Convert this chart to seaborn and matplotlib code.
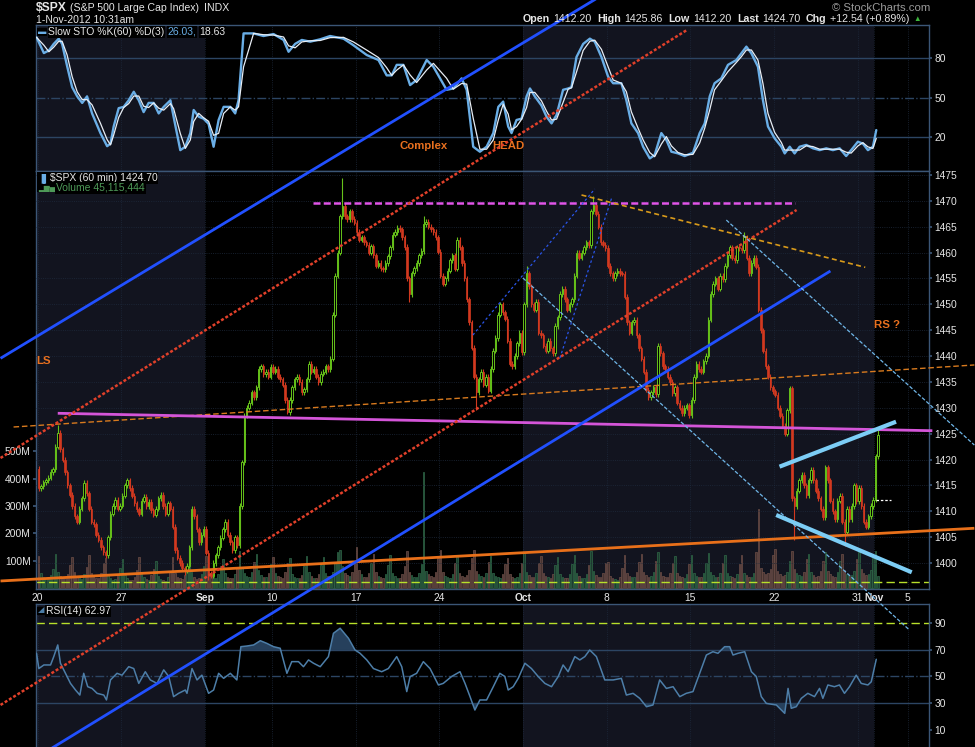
import matplotlib
matplotlib.use("Agg")
import matplotlib.pyplot as plt
import seaborn as sns
import numpy as np
import pandas as pd

# ---- values ----
# x axis is trading days from Aug 20 2012 (Sep 3, Oct 29-30 closed)
tick_days = [0, 5, 10, 14, 19, 24, 29, 34, 39, 44, 49, 50, 52]
tick_labels = ['20', '27', 'Sep', '10', '17', '24', 'Oct', '8', '15', '22', '31', 'Nov', '5']
month_starts = [10, 29, 50]  # Sep, Oct, Nov

prev_close = 1418.2
# hourly closes, 7 bars per day
closes = [
    [1414.5, 1414.8, 1415.6, 1416.0, 1416.5, 1417.6, 1418.1],  # Aug 20
    [1422.5, 1425.2, 1422.0, 1420.0, 1417.5, 1415.0, 1413.2],
    [1411.0, 1409.0, 1408.0, 1410.5, 1412.5, 1415.5, 1413.5],
    [1410.5, 1408.0, 1407.5, 1405.5, 1404.5, 1403.0, 1402.1],
    [1401.5, 1405.0, 1409.5, 1411.0, 1412.2, 1410.5, 1411.1],
    [1413.0, 1415.0, 1416.0, 1414.5, 1413.0, 1411.5, 1410.4],  # Aug 27
    [1409.5, 1412.0, 1412.8, 1411.0, 1411.8, 1410.2, 1409.3],
    [1410.5, 1412.5, 1413.2, 1411.0, 1409.5, 1411.5, 1410.5],
    [1407.0, 1402.5, 1401.0, 1400.0, 1399.0, 1398.5, 1399.5],
    [1403.0, 1410.5, 1409.0, 1406.5, 1404.0, 1405.5, 1406.6],
    [1402.0, 1398.0, 1397.5, 1400.0, 1401.5, 1403.0, 1404.9],  # Sep 4
    [1406.5, 1408.0, 1405.5, 1404.0, 1402.5, 1405.0, 1403.4],
    [1411.0, 1419.5, 1428.5, 1430.0, 1431.0, 1433.0, 1432.1],
    [1434.0, 1437.5, 1438.0, 1436.5, 1437.0, 1436.0, 1437.9],
    [1437.0, 1437.5, 1436.0, 1435.5, 1434.5, 1431.5, 1429.1],  # Sep 10
    [1431.5, 1434.0, 1435.5, 1436.0, 1435.0, 1433.0, 1433.6],
    [1435.5, 1438.5, 1437.0, 1437.5, 1436.0, 1435.0, 1436.6],
    [1437.0, 1438.0, 1437.5, 1439.5, 1448.0, 1455.5, 1460.0],
    [1467.0, 1469.0, 1467.0, 1466.5, 1468.0, 1466.5, 1465.8],
    [1464.0, 1462.5, 1463.0, 1462.0, 1461.5, 1460.0, 1461.2],  # Sep 17
    [1459.5, 1457.5, 1458.0, 1457.0, 1456.8, 1458.0, 1459.3],
    [1461.0, 1463.5, 1464.0, 1464.8, 1464.5, 1463.0, 1461.1],
    [1455.0, 1452.0, 1456.0, 1457.0, 1458.0, 1459.5, 1460.3],
    [1465.5, 1466.0, 1465.0, 1464.5, 1464.0, 1463.0, 1460.2],
    [1455.5, 1454.0, 1455.0, 1456.5, 1458.5, 1459.5, 1456.9],  # Sep 24
    [1462.5, 1461.0, 1458.0, 1455.0, 1451.0, 1446.5, 1441.6],
    [1436.0, 1433.0, 1435.5, 1437.0, 1434.5, 1436.0, 1433.3],
    [1437.5, 1441.0, 1443.5, 1448.0, 1450.0, 1448.5, 1447.2],
    [1443.0, 1438.5, 1438.0, 1440.0, 1442.5, 1444.5, 1440.7],
    [1450.0, 1456.0, 1453.5, 1450.0, 1449.0, 1450.5, 1444.5],  # Oct 1
    [1444.0, 1442.0, 1441.0, 1443.0, 1441.5, 1440.5, 1445.8],
    [1447.5, 1452.0, 1453.0, 1451.0, 1449.0, 1450.0, 1451.0],
    [1455.5, 1460.0, 1459.0, 1460.0, 1461.0, 1462.0, 1461.4],
    [1468.0, 1469.3, 1467.5, 1465.0, 1462.0, 1461.5, 1460.9],
    [1457.5, 1456.0, 1455.0, 1456.0, 1456.5, 1456.0, 1455.9],  # Oct 8
    [1451.5, 1446.5, 1444.5, 1446.5, 1447.0, 1444.0, 1441.5],
    [1439.5, 1437.0, 1433.5, 1432.0, 1433.0, 1434.0, 1432.6],
    [1442.0, 1440.5, 1438.0, 1437.5, 1436.0, 1435.0, 1432.8],
    [1434.0, 1431.0, 1430.0, 1429.0, 1430.0, 1430.5, 1428.6],
    [1431.5, 1436.0, 1438.5, 1437.5, 1437.0, 1439.0, 1440.1],  # Oct 15
    [1447.0, 1452.0, 1454.0, 1455.0, 1453.0, 1455.5, 1454.9],
    [1457.5, 1459.5, 1461.0, 1459.0, 1458.5, 1461.0, 1460.9],
    [1460.5, 1463.0, 1459.0, 1456.0, 1458.0, 1459.0, 1457.3],
    [1449.0, 1445.0, 1441.0, 1438.0, 1436.0, 1434.0, 1433.2],
    [1432.5, 1430.0, 1428.5, 1426.5, 1425.0, 1429.5, 1433.8],  # Oct 22
    [1412.5, 1411.0, 1414.0, 1416.0, 1417.0, 1415.0, 1413.1],
    [1416.0, 1418.0, 1416.0, 1414.0, 1412.5, 1410.5, 1408.8],
    [1418.5, 1416.0, 1412.0, 1410.0, 1408.5, 1412.0, 1413.0],
    [1408.0, 1406.0, 1410.5, 1408.5, 1411.0, 1415.0, 1411.9],
    [1414.5, 1411.0, 1408.0, 1407.0, 1409.0, 1411.0, 1412.2],  # Oct 31
    [1420.6, 1424.7],                                          # Nov 1
]
# hourly volume, millions
volumes = [
    [118, 55, 42, 38, 35, 48, 70], [125, 60, 45, 40, 38, 52, 85],
    [115, 58, 40, 35, 33, 50, 78], [120, 55, 44, 36, 38, 55, 90],
    [110, 50, 38, 30, 32, 45, 72], [105, 48, 36, 28, 30, 42, 65],
    [112, 52, 40, 32, 30, 46, 70], [100, 45, 34, 28, 26, 40, 62],
    [115, 55, 42, 36, 34, 48, 75], [120, 60, 40, 34, 38, 50, 80],
    [118, 62, 48, 40, 36, 52, 82], [105, 55, 42, 38, 35, 50, 78],
    [135, 75, 55, 45, 42, 58, 95], [125, 65, 48, 40, 42, 55, 88],
    [112, 55, 45, 40, 38, 60, 92], [108, 50, 42, 36, 35, 48, 80],
    [118, 58, 45, 38, 36, 52, 85], [115, 55, 45, 40, 60, 95, 130],
    [140, 80, 55, 48, 45, 60, 100], [150, 65, 50, 42, 40, 55, 90],
    [125, 58, 45, 40, 38, 52, 85], [120, 55, 44, 38, 36, 50, 82],
    [135, 60, 48, 42, 40, 55, 88], [425, 62, 50, 44, 42, 58, 110],
    [140, 58, 45, 40, 38, 52, 90], [120, 55, 45, 42, 48, 65, 110],
    [140, 62, 50, 45, 42, 55, 95], [118, 55, 45, 40, 38, 52, 88],
    [110, 52, 42, 38, 40, 55, 92], [130, 60, 48, 42, 40, 54, 90],
    [118, 55, 44, 40, 38, 50, 85], [115, 52, 42, 36, 38, 52, 88],
    [120, 55, 44, 38, 36, 50, 85], [135, 62, 48, 42, 40, 54, 90],
    [95, 45, 36, 32, 30, 42, 72], [120, 55, 45, 40, 42, 58, 95],
    [125, 60, 48, 42, 45, 60, 100], [130, 58, 45, 40, 42, 56, 92],
    [118, 55, 44, 40, 38, 52, 88], [120, 56, 45, 40, 42, 55, 92],
    [128, 60, 48, 42, 40, 55, 90], [122, 55, 45, 40, 38, 52, 88],
    [120, 55, 46, 42, 40, 56, 130], [290, 75, 60, 52, 55, 70, 120],
    [143, 62, 50, 45, 48, 60, 100], [135, 70, 55, 48, 45, 60, 105],
    [125, 60, 48, 42, 45, 62, 100], [133, 62, 50, 45, 42, 58, 98],
    [125, 65, 52, 45, 48, 62, 105], [133, 68, 55, 48, 50, 65, 110],
    [135, 45],
]
# notable wicks (day, bar) -> price
wick_highs = {(1, 1): 1426.7, (18, 1): 1474.5, (33, 1): 1471.0, (29, 1): 1457.4,
              (23, 0): 1467.0, (42, 1): 1464.0, (50, 1): 1425.9}
wick_lows = {(10, 1): 1396.7, (45, 1): 1404.5, (48, 1): 1403.3, (22, 1): 1450.5,
             (26, 1): 1429.5, (14, 6): 1428.8, (8, 5): 1397.7}

# Slow STO %K(60) readings (trading day, value)
stoch_t = [-0.06, 0.38, 0.68, 0.97, 1.27, 1.47, 1.77, 2.07, 2.37, 2.67,
           2.96, 3.26, 3.76, 4.16, 4.36, 4.55, 4.85, 5.15, 5.45, 5.75,
           6.05, 6.34, 6.64, 6.94, 7.24, 7.54, 7.94, 8.13, 8.53, 8.83,
           9.13, 9.33, 9.63, 9.92, 10.22, 10.52, 10.82, 11.12, 11.52, 11.81,
           12.01, 12.31, 12.91, 13.50, 14.10, 14.70, 15.0, 15.39, 15.79, 16.29,
           16.89, 17.48, 18.28, 18.87, 19.67, 20.37, 20.86, 21.16, 21.46, 21.86,
           22.26, 22.65, 23.25, 23.65, 24.44, 24.84, 25.34, 25.64, 26.03, 26.43,
           26.83, 27.23, 27.53, 27.82, 28.12, 28.32, 28.62, 28.92, 29.22, 29.42,
           29.71, 30.11, 30.41, 30.71, 31.01, 31.40, 31.70, 31.90, 32.20, 32.60,
           33.0, 33.29, 33.69, 34.09, 34.39, 34.88, 35.18, 35.48, 35.88, 36.18,
           36.58, 36.87, 37.27, 37.57, 37.87, 38.27, 38.66, 39.16, 39.56, 39.86,
           40.16, 40.45, 40.85, 41.25, 41.75, 42.05, 42.35, 42.65, 43.04, 43.34,
           43.64, 44.04, 44.44, 44.64, 44.94, 45.23, 45.53, 45.93, 46.33, 46.73,
           47.12, 47.52, 47.92, 48.31, 48.61, 49.01, 49.31, 49.61, 49.91, 50.11]
stoch_k = [96, 84, 86, 91, 95, 91, 74, 58, 51, 46,
           51, 38, 23, 13, 15, 28, 42, 43, 48, 54.5,
           48, 39, 46, 46, 38, 43, 48, 35.5, 10, 12.6,
           23, 40.6, 35.5, 34, 30, 12.6, 33, 43, 43, 38,
           48, 99, 99, 97, 98.5, 94, 85, 91, 94, 92.7,
           94.5, 97, 95, 90, 82.5, 78.7, 67, 67, 75, 75,
           59.6, 63.5, 78.7, 73.6, 56, 57, 64.7, 56, 12.6, 8.8,
           12.6, 23, 43, 47, 28, 23, 33, 34, 51, 57,
           51, 44, 35.5, 30.4, 36.8, 56, 57, 58, 81, 91,
           95, 92.7, 81, 66, 61, 61, 48, 30.4, 23, 12.6,
           3.7, 6.3, 23, 17.7, 8.8, 7.5, 5.5, 8, 23, 30.4,
           51, 61, 64.7, 75, 78.7, 83.8, 88.9, 83.8, 73.6, 48,
           28, 19, 12.6, 7.5, 12.6, 7.5, 12.6, 14, 11.4, 10,
           11.4, 10, 11.4, 5.5, 10, 16.4, 15, 10, 12.6, 25.3]

# RSI(14) readings
rsi_t = [-0.06, 0.08, 0.38, 0.78, 0.97, 1.21, 1.37, 1.67, 1.97, 2.27,
         2.53, 2.76, 3.0, 3.26, 3.56, 3.96, 4.12, 4.36, 4.75, 5.05,
         5.45, 5.75, 6.05, 6.44, 6.74, 7.14, 7.54, 7.84, 8.13, 8.43,
         8.83, 8.93, 9.23, 9.53, 9.82, 10.22, 10.52, 10.82, 11.12, 11.52,
         11.91, 12.15, 12.51, 12.91, 13.31, 13.70, 14.10, 14.50, 14.90, 15.19,
         15.59, 15.89, 16.19, 16.49, 16.89, 17.38, 17.68, 18.08, 18.58, 18.97,
         19.27, 19.67, 20.07, 20.56, 20.96, 21.46, 21.76, 22.06, 22.26, 22.65,
         23.05, 23.45, 23.95, 24.24, 24.74, 25.24, 25.54, 25.84, 26.13, 26.43,
         26.83, 27.23, 27.62, 27.92, 28.12, 28.42, 28.72, 29.12, 29.51, 29.91,
         30.31, 30.71, 31.11, 31.40, 31.70, 32.10, 32.40, 32.70, 32.99, 33.39,
         33.89, 34.39, 34.88, 35.18, 35.58, 35.98, 36.38, 36.77, 37.17, 37.57,
         37.97, 38.37, 38.76, 39.16, 39.56, 39.96, 40.35, 40.65, 41.05, 41.35,
         41.55, 41.85, 42.25, 42.65, 42.94, 43.24, 43.54, 44.14, 44.64, 44.84,
         45.03, 45.33, 45.63, 46.02, 46.42, 46.72, 46.92, 47.22, 47.61, 47.91,
         48.21, 48.51, 48.91, 49.21, 49.61, 49.81, 50.11]
rsi_v = [67.5, 56, 58.7, 58.7, 65, 73.8, 60, 52.4, 44.8, 39.8,
         36, 52.4, 42.3, 41, 37.3, 36, 32.3, 47.4, 52.4, 51,
         57.4, 56, 44.8, 53.6, 47.4, 44.8, 55, 50, 34.8, 37.3,
         39.8, 37.3, 56, 47.4, 51, 37.3, 39.8, 52.4, 48.6, 52.4,
         47.4, 72.5, 73, 73.8, 77, 75, 72.5, 71.3, 52.4, 61.2,
         61.2, 57.4, 62.5, 60, 57.4, 65, 82.6, 86.4, 78.8, 70,
         67.5, 62.5, 56, 53.6, 56, 65, 57.4, 38.6, 49.9, 52.4,
         61.2, 56, 43.6, 44.8, 50, 53.6, 44.8, 34.8, 24.7, 32.3,
         32.3, 42.3, 52.4, 50, 39.8, 42.3, 48.6, 60, 56, 50,
         44.8, 42.3, 50, 58.7, 53.6, 65, 62.5, 65, 70, 65,
         47.4, 47.4, 48.6, 36, 37.3, 33.5, 27.2, 28.5, 47.4, 41,
         42.3, 34.8, 37.3, 38.6, 52.4, 66.2, 68.7, 67.5, 72.5, 72.5,
         66.2, 67.5, 68.7, 53.6, 50, 34.8, 29.7, 28.5, 22.2, 41,
         26, 27.2, 33.5, 37.3, 34.8, 41, 33.5, 43.6, 42.3, 43.6,
         37.3, 42.3, 51, 44.8, 43.6, 46, 63.0]

# drawn trendlines, (day, price) end points
blue_channel = [[(0.3, 1363.1), (47.37, 1456.45)], [(-2.21, 1439.57), (34.0, 1510.3)]]
red_channel = [[(-2.21, 1420.3), (38.78, 1503.0)], [(-2.21, 1372.55), (45.35, 1468.24)]]
blue_dotted = [[(26.01, 1444.07), (33.29, 1472.3)], [(31.21, 1439.63), (34.31, 1470.66)]]
gold_dashed = [(32.5, 1471.14), (49.45, 1457.16)]
thin_blue = [[(29.0, 1455.09), (52.09, 1387.05)], [(41.15, 1466.3), (55.97, 1422.8)]]
wedge = [[(44.33, 1418.62), (51.29, 1427.31)], [(44.13, 1409.28), (52.23, 1398.2)]]
top_line = [(16.47, 1469.65), (45.23, 1469.65)]
neckline = [(1.21, 1428.94), (53.46, 1425.57)]
orange_dashed = [(-1.43, 1426.29), (55.97, 1438.28)]
orange_support = [(-2.21, 1396.52), (55.97, 1406.71)]

# ---- build candles ----
rows = []
last = prev_close
for d, day in enumerate(closes):
    for j, c in enumerate(day):
        o = last
        hi = wick_highs.get((d, j), max(o, c) + 0.5)
        lo = wick_lows.get((d, j), min(o, c) - 0.5)
        rows.append((d + (j + 0.5) / 7, o, hi, lo, c, volumes[d][j]))
        last = c
bars = pd.DataFrame(rows, columns=['x', 'open', 'high', 'low', 'close', 'vol'])
up = (bars['close'] >= bars['open']).values

sns.set_theme(style='dark', rc={'axes.facecolor': 'black', 'figure.facecolor': 'black',
                                'axes.edgecolor': '#3b5676', 'text.color': '#e6e6e6',
                                'xtick.color': '#e6e6e6', 'ytick.color': '#e6e6e6'})
plt.rcParams['font.family'] = ['Liberation Sans', 'DejaVu Sans']

W_PX, H_PX = 975, 747
LEFT, RIGHT = 35.5, 929.0
SHADE = '#12141f'
GRID = '#2c4563'
TXT = '#e6e6e6'
ORANGE = '#e8701f'


def box(top, bottom):
    return [LEFT / W_PX, 1 - bottom / H_PX, (RIGHT - LEFT) / W_PX, (bottom - top) / H_PX]


fig = plt.figure(figsize=(9.75, 7.47), dpi=100, facecolor='black')
ax_sto = fig.add_axes(box(25, 171))
ax_vol = fig.add_axes(box(171, 589), sharex=ax_sto)
ax_px = ax_vol.twinx()
ax_rsi = fig.add_axes(box(604, 747), sharex=ax_sto)
ax_px.set_zorder(5)
ax_px.patch.set_visible(False)

xlim = (-0.12, 53.26)
for ax in (ax_sto, ax_vol, ax_rsi):
    ax.set_facecolor('black')
    ax.axvspan(-5, month_starts[0], color=SHADE, lw=0, zorder=0)
    ax.axvspan(month_starts[1], month_starts[2], color=SHADE, lw=0, zorder=0)
    for s in ax.spines.values():
        s.set_color('#3b5676')
        s.set_linewidth(1)
    for d in tick_days:
        ax.axvline(d, color='#1e2a3c', lw=0.6, ls=':', zorder=0.5)
    ax.grid(False)
for s in ax_px.spines.values():
    s.set_visible(False)
ax_rsi.spines['bottom'].set_visible(False)
ax_sto.set_xlim(*xlim)

# ---- stochastics ----
k = pd.Series(stoch_k, dtype=float)
dline = k.rolling(2, min_periods=1).mean()
ax_sto.axhline(80, color=GRID, lw=1, zorder=1)
ax_sto.axhline(20, color=GRID, lw=1, zorder=1)
ax_sto.axhline(50, color=GRID, lw=1, ls='-.', zorder=1)
sns.lineplot(x=stoch_t, y=k.values, ax=ax_sto, color='#6aaee6', lw=1.7, zorder=3)
sns.lineplot(x=stoch_t, y=dline.values, ax=ax_sto, color='#e8eef5', lw=0.9, zorder=4)
ax_sto.set_ylim(-5.9, 105.4)
ax_sto.yaxis.tick_right()
ax_sto.set_yticks([20, 50, 80])
ax_sto.text(21.65, 13.1, 'Complex', color=ORANGE, fontsize=8.2, fontweight='bold', va='center')
ax_sto.text(27.15, 13.1, 'HEAD', color=ORANGE, fontsize=8.2, fontweight='bold', va='center')

# ---- price + volume ----
vcol = np.where(up, '#1e3b30', '#463431')
vedge = np.where(up, '#2f6a48', '#6e4f48')
ax_vol.bar(bars['x'], bars['vol'], width=0.62 / 7, color=vcol, edgecolor=vedge, lw=0.5, zorder=2)
ax_vol.axhline(21, color='#b8e02a', lw=1, ls=(0, (6, 3)), zorder=2.5)
ax_vol.set_ylim(-3.7, 1527)
ax_vol.set_yticks([100, 200, 300, 400, 500])
ax_vol.set_yticklabels(['100M', '200M', '300M', '400M', '500M'])

for yv in np.arange(1400, 1476, 5):
    ax_px.axhline(yv, color='#1e2a3c', lw=0.6, ls=':', zorder=0.5)
body_lo = np.minimum(bars['open'], bars['close'])
body_h = np.maximum(np.abs(bars['close'] - bars['open']), 0.15)
GREEN, RED = '#66c21a', '#d2391f'
ax_px.vlines(bars['x'], bars['low'], bars['high'], colors=np.where(up, GREEN, RED), lw=0.8, zorder=2)
ax_px.bar(bars['x'][up], body_h[up], bottom=body_lo[up], width=0.62 / 7,
          facecolor='black', edgecolor=GREEN, lw=0.7, zorder=3)
ax_px.bar(bars['x'][~up], body_h[~up], bottom=body_lo[~up], width=0.62 / 7,
          facecolor=RED, edgecolor=RED, lw=0.5, zorder=3)
ax_px.hlines(1412.2, 50.1, 51.0, colors='white', lw=0.9, ls=(0, (2, 1.5)), zorder=4)
ax_px.set_ylim(1394.97, 1475.78)
ax_px.set_yticks(np.arange(1400, 1476, 5))


def tline(pts, **kw):
    (x0, y0), (x1, y1) = pts
    ax_px.plot([x0, x1], [y0, y1], clip_on=False, solid_capstyle='butt', **kw)


tline(orange_support, color='#e8701a', lw=2.0, zorder=6)
tline(orange_dashed, color='#d87a1e', lw=1.0, ls=(0, (4, 2)), zorder=6)
tline(neckline, color='#d455d8', lw=2.0, zorder=6)
tline(top_line, color='#e055e8', lw=1.8, ls=(0, (2.8, 1.3)), zorder=6)
tline(gold_dashed, color='#d89a1a', lw=1.2, ls=(0, (3, 2)), zorder=6)
for ln in blue_channel:
    tline(ln, color='#2150ff', lw=2.0, zorder=6)
for ln in red_channel:
    tline(ln, color='#e0402a', lw=1.8, ls=(0, (1.2, 0.8)), zorder=6)
for ln in blue_dotted:
    tline(ln, color='#2a55e8', lw=0.9, ls=(0, (2, 2)), zorder=6)
for ln in thin_blue:
    tline(ln, color='#6fb6e8', lw=0.9, ls=(0, (3, 1.5)), zorder=6)
for ln in wedge:
    tline(ln, color='#7ccdf5', lw=3.0, zorder=7)

ax_px.text(-0.06, 1439.05, 'LS', color=ORANGE, fontsize=8.2, fontweight='bold', va='center')
ax_px.text(49.97, 1446.0, 'RS ?', color=ORANGE, fontsize=8.2, fontweight='bold', va='center')

# ---- RSI ----
rv = np.array(rsi_v)
rt = np.array(rsi_t)
ax_rsi.axhline(70, color=GRID, lw=1, zorder=1)
ax_rsi.axhline(30, color=GRID, lw=1, zorder=1)
ax_rsi.axhline(50, color=GRID, lw=1, ls='-.', zorder=1)
ax_rsi.axhline(90, color='#b8e02a', lw=1, ls=(0, (6, 3)), zorder=1)
ax_rsi.fill_between(rt, rv, 70, where=rv > 70, interpolate=True, color='#26405c', lw=0, zorder=2)
ax_rsi.fill_between(rt, rv, 30, where=rv < 30, interpolate=True, color='#26405c', lw=0, zorder=2)
sns.lineplot(x=rsi_t, y=rsi_v, ax=ax_rsi, color='#4d7ea8', lw=1.1, zorder=3)
ax_rsi.set_ylim(-3.2, 104.7)
ax_rsi.yaxis.tick_right()
ax_rsi.set_yticks([10, 30, 50, 70, 90])

# ---- ticks ----
tick_kw = dict(labelsize=7.4, colors=TXT)
for ax in (ax_sto, ax_rsi):
    ax.tick_params(axis='y', which='both', right=True, left=False, length=2.5, pad=1.5,
                   color='#3b5676', **tick_kw)
    ax.tick_params(axis='x', bottom=False, labelbottom=False)
    ax.set_ylabel('')
ax_px.tick_params(axis='y', right=True, length=2.5, pad=1.5, color='#3b5676', **tick_kw)
ax_vol.tick_params(axis='y', left=True, length=2.5, pad=1, color='#3b5676', **tick_kw)
ax_vol.set_xticks(tick_days)
ax_vol.set_xticklabels(tick_labels)
ax_vol.tick_params(axis='x', bottom=True, length=0, pad=3, labelbottom=True, **tick_kw)
for lab in ax_vol.get_xticklabels():
    if lab.get_text() in ('Sep', 'Oct', 'Nov'):
        lab.set_fontweight('bold')
ax_px.tick_params(axis='x', bottom=False, labelbottom=False)

# ---- header and legends ----
renderer = fig.canvas.get_renderer()


def row(x_px, y_px, pieces, box_bg=False):
    x = x_px
    for s, color, size, weight, gap in pieces:
        kw = {}
        if box_bg:
            kw['bbox'] = dict(facecolor='black', edgecolor='none', pad=0.6)
        t = fig.text(x / W_PX, 1 - y_px / H_PX, s, color=color, fontsize=size,
                     fontweight=weight, va='center', ha='left', zorder=10, **kw)
        x += t.get_window_extent(renderer).width + gap
    return x


row(36, 8, [('$SPX', TXT, 8.7, 'bold', 3), ('(S&P 500 Large Cap Index)', TXT, 7.6, 'normal', 5),
            ('INDX', TXT, 7.6, 'normal', 0)])
row(36, 20, [('1-Nov-2012 10:31am', TXT, 7.5, 'normal', 0)])
fig.text(930 / W_PX, 1 - 8 / H_PX, '\u00a9 StockCharts.com', color='#9a9a9a', fontsize=8.2,
         ha='right', va='center', zorder=10)
row(523, 19.5, [('Open', TXT, 7.7, 'bold', 3), ('1412.20', TXT, 7.7, 'normal', 6),
                ('High', TXT, 7.7, 'bold', 3), ('1425.86', TXT, 7.7, 'normal', 6),
                ('Low', TXT, 7.7, 'bold', 3), ('1412.20', TXT, 7.7, 'normal', 6),
                ('Last', TXT, 7.7, 'bold', 3), ('1424.70', TXT, 7.7, 'normal', 6),
                ('Chg', TXT, 7.7, 'bold', 3), ('+12.54 (+0.89%)', TXT, 7.7, 'normal', 4),
                ('\u25b2', '#3cb43c', 5.5, 'normal', 0)])
row(38, 32, [('\u25ac', '#6aaee6', 6, 'normal', 2), ('Slow STO %K(60) %D(3)', TXT, 7.5, 'normal', 3),
             ('26.03,', '#6aaee6', 7.5, 'normal', 3), ('18.63', TXT, 7.5, 'normal', 0)], box_bg=True)
row(38, 178, [('\u2590\u258c', '#6aaee6', 5.5, 'normal', 1), ('$SPX (60 min) 1424.70', TXT, 7.5, 'normal', 0)],
    box_bg=True)
row(38, 188, [('\u2582\u2586\u2584', '#4e9a58', 5.5, 'normal', 1), ('Volume 45,115,444', '#4e9a58', 7.5, 'normal', 0)],
    box_bg=True)
row(38, 611, [('\u25e2', '#4d7ea8', 6, 'normal', 1), ('RSI(14) 62.97', TXT, 7.5, 'normal', 0)], box_bg=True)

fig.savefig('out.png', dpi=100, facecolor='black')
